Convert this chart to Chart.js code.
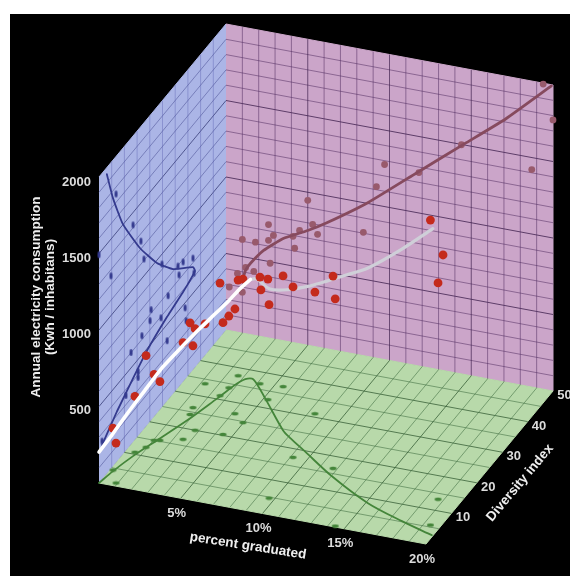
<!DOCTYPE html>
<html lang="en">
<head>
  <meta charset="UTF-8" />
  <title>Electricity consumption 3D scatter</title>
  <script src="https://cdn.jsdelivr.net/npm/chart.js"></script>
  <style>
    body { margin: 0; background: white; }
    canvas { position: absolute; left: 10px; top: 14px; background: black; filter: blur(0.6px); }
  </style>
</head>
<body>
  <canvas id="grafico" width="560" height="562"></canvas>

  <script>
    // axis ticks
    const pctTicks = [5, 10, 15, 20];
    const divTicks = [10, 20, 30, 40, 50];
    const kwhTicks = [500, 1000, 1500, 2000];

    // [percent graduated, diversity index, kwh]
    const redPoints = [
      [0.17, 4.4, 274], [0.9, 0.9, 261], [0.55, 10.6, 365], [0.92, 12.6, 599], [1.04, 15, 430],
      [1.35, 15.3, 384], [2.53, 16.8, 632], [1.66, 26.3, 404], [1.81, 24.2, 599], [2.77, 20, 664],
      [4.43, 20.3, 730], [2.69, 33.8, 469], [4.15, 26.8, 684], [2.57, 31.1, 736], [2.65, 37.7, 625],
      [4.97, 24.7, 938], [4.16, 36.6, 697], [5.28, 32.5, 788], [5.51, 37, 723], [1.25, 33.7, 391],
      [9.67, 4.7, 1264], [9.15, 17.5, 1114], [8.39, 31, 795], [11.75, 16.5, 1257], [14.4, 0.3, 1485],
      [18.67, 13.3, 1414], [20, 6.7, 1755], [19.4, 5.6, 1993], [4.62, 34, 674]
    ];
    const whiteCurve = [
      [0, 0, 202], [0.2, 3.8, 241], [0.5, 8, 306], [0.9, 12.2, 378], [1.3, 16.2, 450], [1.7, 20.1, 495],
      [2.1, 24.5, 534], [2.4, 28.8, 554], [2.8, 33, 586], [3.0, 36.1, 606], [3.45, 37.4, 651]
    ];
    const greyCurve = [
      [3.45, 37.4, 651], [4.0, 36.2, 690], [5.7, 30.6, 769], [7.82, 23.7, 945], [10, 18.7, 1114], [11.56, 15.3, 1244],
      [12.93, 12.8, 1355], [15.13, 8.5, 1537], [17.72, 5.2, 1778], [20, 2.7, 2007]
    ];

    // left wall: [diversity index, kwh]
    const bluePoints = [
      [6.7, 1755], [13.4, 1419], [16.5, 1251], [0, 1492], [4.7, 1260], [17.7, 1110], [24.8, 935], [31.1, 796],
      [33.1, 783], [31.5, 730], [37, 730], [37.4, 624], [27.2, 680], [33.9, 467], [20.5, 723], [20.1, 659],
      [24.4, 592], [34.3, 375], [16.9, 625], [26.8, 394], [12.6, 601], [18.5, 463], [15.4, 421], [15.4, 382],
      [21.3, 283], [10.6, 360], [14.2, 289], [1.2, 250]
    ];
    const blueCurve = [
      [3.1, 1956], [5.5, 1752], [9.4, 1504], [16.1, 1214], [22.8, 982], [29.1, 816], [37, 671], [37.8, 629],
      [35, 600], [33.1, 587], [26.8, 550], [18.9, 487], [13.4, 416], [7.1, 327], [1.2, 224]
    ];

    // back wall: [percent graduated, kwh]
    const maroonPoints = [
      [9.7, 1275], [9.2, 1120], [5.0, 947], [5.3, 796], [4.5, 740], [4.1, 694], [5.6, 737], [8.4, 806],
      [4.2, 618], [11.8, 1264], [14.4, 1498], [18.7, 1421], [20, 1772], [19.4, 1994], [2.6, 741], [2.9, 676],
      [2.6, 638], [1.0, 612], [1.8, 610], [2.7, 490], [1.2, 433], [0.7, 384], [1.7, 417], [0.2, 285], [1.0, 267]
    ];
    const maroonCurve = [
      [1, 345], [1.2, 415], [1.5, 466], [2.3, 566], [3.5, 668], [5, 750], [6.2, 826], [8.7, 1007],
      [11.7, 1263], [14.6, 1509], [17.1, 1720], [19.9, 1992]
    ];

    // floor: [percent graduated, diversity index]
    const greenPoints = [
      [0.17, 4.4], [0.9, 0.9], [0.55, 10.6], [0.92, 12.6], [1.04, 15], [1.35, 15.3], [2.53, 16.8], [2.77, 20],
      [4.43, 20.3], [1.81, 24.2], [1.66, 26.3], [4.15, 26.8], [4.97, 24.7], [2.57, 31.1], [2.69, 33.8], [1.25, 33.7],
      [2.65, 37.7], [4.16, 36.6], [5.28, 32.5], [5.51, 37], [9.67, 4.7], [8.39, 31], [9.15, 17.5], [11.75, 16.5],
      [14.4, 0.3], [18.67, 13.3], [19.4, 5.6]
    ];
    const greenCurve = [
      [0, 0], [0.22, 4.1], [0.62, 9.4], [1.19, 15.1], [1.91, 22.3], [2.54, 30.1], [3.01, 36.1], [3.52, 37.6],
      [4.14, 35.9], [5.32, 31.9], [7.44, 24.6], [8.21, 22.7], [9.52, 19.8], [12.04, 14.2], [15.13, 8.5], [17.72, 5.2], [19.92, 2.8]
    ];

    const PCT_MAX = 20, DIV_MAX = 50, KWH_MAX = 2000;

    // the box is a parallel projection, so three axis vectors are enough
    function proyectar(pct, div, kwh) {
      return {
        x: 99 + pct / PCT_MAX * 327 + div / DIV_MAX * 127,
        y: 483 + pct / PCT_MAX * 61 - div / DIV_MAX * 153 - kwh / KWH_MAX * 306
      };
    }

    // little sprites for the flattened markers on the walls
    function marca(w, h, color) {
      const c = document.createElement('canvas');
      c.width = w + 2;
      c.height = h + 2;
      const g = c.getContext('2d');
      g.fillStyle = color;
      g.beginPath();
      g.ellipse(c.width / 2, c.height / 2, w / 2, h / 2, 0, 0, Math.PI * 2);
      g.fill();
      return c;
    }

    const datasets = [];

    function pared(esquinas, color) {
      datasets.push({
        data: esquinas.map(e => proyectar(...e)),
        showLine: true, fill: 'shape', backgroundColor: color, borderColor: color,
        borderWidth: 1, pointRadius: 0, tension: 0
      });
    }
    function linea(a, b, color, ancho) {
      datasets.push({
        data: [proyectar(...a), proyectar(...b)],
        showLine: true, borderColor: color, borderWidth: ancho, pointRadius: 0, tension: 0
      });
    }
    function curva(puntos, color, ancho, tension) {
      datasets.push({
        data: puntos, showLine: true, borderColor: color, borderWidth: ancho,
        pointRadius: 0, tension: tension || 0.15, borderCapStyle: 'round', borderJoinStyle: 'round'
      });
    }
    function puntos(lista, estilo, radio, color) {
      datasets.push({
        data: lista, showLine: false, pointStyle: estilo, pointRadius: radio,
        pointBackgroundColor: color, pointBorderColor: color, pointBorderWidth: 0
      });
    }

    // walls
    pared([[0, 0, 0], [0, DIV_MAX, 0], [0, DIV_MAX, KWH_MAX], [0, 0, KWH_MAX]], '#abb5e6');
    pared([[0, DIV_MAX, 0], [PCT_MAX, DIV_MAX, 0], [PCT_MAX, DIV_MAX, KWH_MAX], [0, DIV_MAX, KWH_MAX]], '#cba5c9');
    pared([[0, 0, 0], [PCT_MAX, 0, 0], [PCT_MAX, DIV_MAX, 0], [0, DIV_MAX, 0]], '#b8d9aa');

    // grids: 1% / 5 div / 100 kwh, stronger on the labelled steps
    for (let k = 100; k < KWH_MAX; k += 100) {
      const fuerte = k % 500 === 0;
      linea([0, 0, k], [0, DIV_MAX, k], fuerte ? 'rgba(50,55,115,0.75)' : 'rgba(75,80,150,0.55)', 1);
      linea([0, DIV_MAX, k], [PCT_MAX, DIV_MAX, k], fuerte ? 'rgba(65,35,80,0.8)' : 'rgba(85,50,100,0.55)', 1);
    }
    for (let d = 5; d < DIV_MAX; d += 5) {
      const fuerte = d % 10 === 0;
      linea([0, d, 0], [0, d, KWH_MAX], 'rgba(90,95,175,0.4)', 1);
      linea([0, d, 0], [PCT_MAX, d, 0], fuerte ? 'rgba(50,90,50,0.75)' : 'rgba(70,115,70,0.6)', 1);
    }
    for (let p = 1; p < PCT_MAX; p++) {
      const fuerte = p % 5 === 0;
      linea([p, DIV_MAX, 0], [p, DIV_MAX, KWH_MAX], fuerte ? 'rgba(65,35,80,0.7)' : 'rgba(85,50,100,0.55)', 1);
      linea([p, 0, 0], [p, DIV_MAX, 0], fuerte ? 'rgba(50,90,50,0.75)' : 'rgba(70,115,70,0.6)', 1);
    }

    // shadows of the cloud on each wall
    const izq = bluePoints.map(p => proyectar(0, p[0], p[1]));
    const fondo = maroonPoints.map(p => proyectar(p[0], DIV_MAX, p[1]));
    const suelo = greenPoints.map(p => proyectar(p[0], p[1], 0));

    puntos(izq, marca(3, 7, '#343a8e'), 4, '#343a8e');
    puntos(fondo, 'circle', 3.4, '#985a6c');
    puntos(suelo, marca(7, 3.5, '#44853a'), 4, '#44853a');

    curva(blueCurve.map(p => proyectar(0, p[0], p[1])), '#343a8e', 1.8);
    curva(maroonCurve.map(p => proyectar(p[0], DIV_MAX, p[1])), '#864a5e', 2.8);
    curva(greenCurve.map(p => proyectar(p[0], p[1], 0)), '#44853a', 1.8, 0.3);

    // the cloud itself
    curva(greyCurve.map(p => proyectar(...p)), '#cfcfd8', 3.2, 0.3);
    puntos(redPoints.map(p => proyectar(...p)), 'circle', 4.4, '#c42a1c');
    curva(whiteCurve.map(p => proyectar(...p)), '#ffffff', 3.6);

    datasets.forEach((d, i) => { d.order = datasets.length - i; });

    const textos = {
      id: 'textos',
      afterDraw(chart) {
        const c = chart.ctx, sx = chart.scales.x, sy = chart.scales.y;
        const px = v => sx.getPixelForValue(v), py = v => sy.getPixelForValue(v);

        function texto(t, x, y, font, color, giro, alin) {
          c.save();
          c.translate(px(x), py(y));
          c.rotate((giro || 0) * Math.PI / 180);
          c.font = font;
          c.fillStyle = color;
          c.textAlign = alin || 'center';
          c.textBaseline = 'middle';
          c.fillText(t, 0, 0);
          c.restore();
        }

        const fTick = 'bold 13px "Liberation Sans"', fTit = 'bold 13.5px "Liberation Sans"';
        pctTicks.forEach(v => {
          const p = proyectar(v, 0, 0);
          texto(v + '%', p.x - 4, p.y + 15, fTick, '#dcdcdc');
        });
        divTicks.forEach(v => {
          const p = proyectar(PCT_MAX, v, 0);
          texto(String(v), p.x + 11.5, p.y + 4.5, fTick, '#dcdcdc');
        });
        kwhTicks.forEach(v => {
          const p = proyectar(0, 0, v);
          texto(String(v), 91, p.y + 3 + v / KWH_MAX * 2, fTick, '#dcdcdc', 0, 'right');
        });
        texto('percent graduated', 248, 546, fTit, '#eeeeee', 9);
        texto('Diversity index', 520, 483, fTit, '#eeeeee', -50);
        texto('Annual electricity consumption', 36, 297, fTit, '#eeeeee', -90);
        texto('(Kwh / inhabitans)', 50, 297, fTit, '#eeeeee', -90);
      }
    };

    new Chart(document.getElementById('grafico'), {
      type: 'scatter',
      data: { datasets },
      options: {
        responsive: false,
        animation: false,
        layout: { padding: 0, autoPadding: false },
        plugins: { legend: { display: false }, tooltip: { enabled: false } },
        scales: {
          x: { type: 'linear', min: 10, max: 570, display: false },
          y: { type: 'linear', min: 14, max: 576, reverse: true, display: false }
        }
      },
      plugins: [textos]
    });
  </script>
</body>
</html>
